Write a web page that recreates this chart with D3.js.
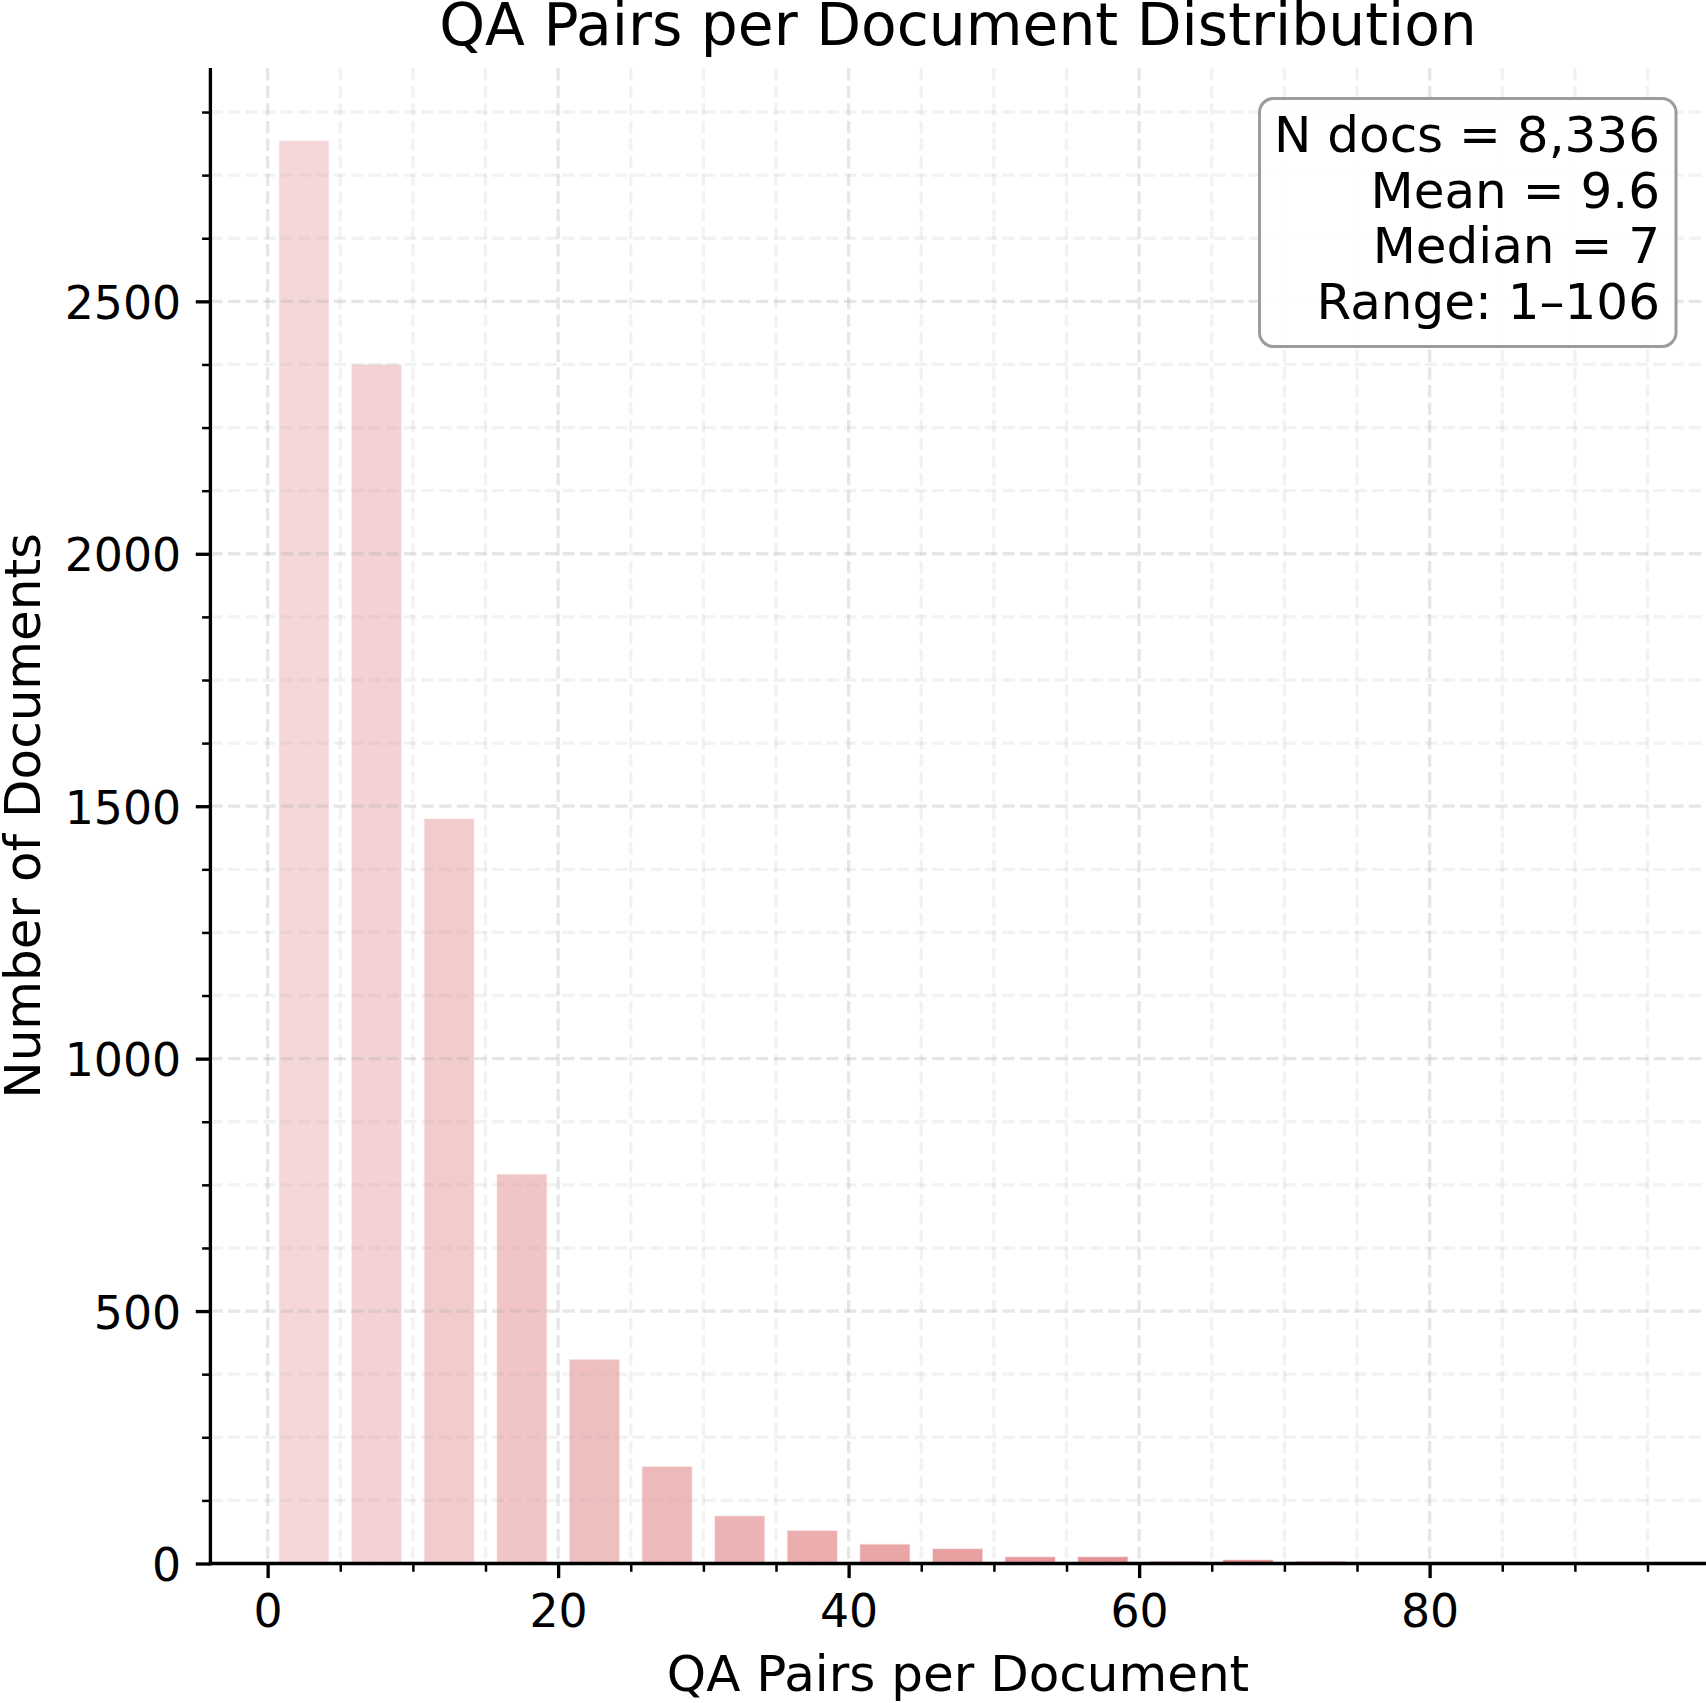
<!DOCTYPE html>
<html>
<head>
<meta charset="utf-8">
<script src="https://cdn.jsdelivr.net/npm/d3@7"></script>
<style>
  html, body { margin: 0; padding: 0; background: #ffffff; }
  svg { display: block; font-family: "DejaVu Sans", sans-serif; }
</style>
</head>
<body>
<script>
// ---- data ----
const binStarts = [0, 5, 10, 15, 20, 25, 30, 35, 40, 45, 50, 55, 60, 65, 70];
const binWidth = 5;
const counts = [2819, 2376, 1476, 772, 405, 193, 95, 66, 39, 30, 14, 14, 5, 8, 5];
const xMajorTicks = [0, 20, 40, 60, 80];
const yMajorTicks = [0, 500, 1000, 1500, 2000, 2500];
const statsLines = ["N docs = 8,336", "Mean = 9.6", "Median = 7", "Range: 1\u2013106"];
const titleText = "QA Pairs per Document Distribution";
const xLabelText = "QA Pairs per Document";
const yLabelText = "Number of Documents";

// ---- layout ----
const W = 1706, H = 1703;
const pL = 210.4, pR = 1705.6, pT = 68.1, pB = 1563.5;
const xDomain = [-3.94, 99.0];
const yDomain = [0, 2962];
const rwidth = 0.7;

const tickFont = 45.8, labelFont = 50, titleFont = 58.3, statsFont = 50;
const lw = 3.33;

const svg = d3.select("body").append("svg").attr("width", W).attr("height", H);

const x = d3.scaleLinear().domain(xDomain).range([pL, pR]);
const y = d3.scaleLinear().domain(yDomain).range([pB, pT]);

const xMinor = d3.range(5, 100, 5).filter(v => v % 20 !== 0);
const yMinor = d3.range(125, 2962, 125).filter(v => v % 500 !== 0);

const colorScale = d3.scaleLinear()
  .domain([0, binStarts.length - 1])
  .range(["rgb(245,215,217)", "rgb(224,130,130)"])
  .interpolate(d3.interpolateRgb);

// bars
svg.append("g").selectAll("rect").data(binStarts).join("rect")
  .attr("x", (d) => x(d + binWidth * (1 - rwidth) / 2))
  .attr("width", (d) => x(d + binWidth * (1 + rwidth) / 2) - x(d + binWidth * (1 - rwidth) / 2))
  .attr("y", (d, i) => y(counts[i]))
  .attr("height", (d, i) => y(0) - y(counts[i]))
  .attr("fill", (d, i) => colorScale(i))
  .attr("stroke", "#ffffff")
  .attr("stroke-opacity", 0.7)
  .attr("stroke-width", 1.5);

// grid (drawn above bars, like matplotlib default)
const grid = svg.append("g");
const dash = "12.3,5.3";
grid.selectAll(".vminor").data(xMinor).join("line")
  .attr("x1", d => x(d)).attr("x2", d => x(d))
  .attr("y1", pT).attr("y2", pB)
  .attr("stroke", "rgba(176,176,176,0.17)").attr("stroke-width", lw)
  .attr("stroke-dasharray", dash);
grid.selectAll(".hminor").data(yMinor).join("line")
  .attr("x1", pL).attr("x2", pR)
  .attr("y1", d => y(d)).attr("y2", d => y(d))
  .attr("stroke", "rgba(176,176,176,0.17)").attr("stroke-width", lw)
  .attr("stroke-dasharray", dash);
grid.selectAll(".vmajor").data(xMajorTicks).join("line")
  .attr("x1", d => x(d)).attr("x2", d => x(d))
  .attr("y1", pT).attr("y2", pB)
  .attr("stroke", "rgba(176,176,176,0.32)").attr("stroke-width", lw)
  .attr("stroke-dasharray", dash);
grid.selectAll(".hmajor").data(yMajorTicks).join("line")
  .attr("x1", pL).attr("x2", pR)
  .attr("y1", d => y(d)).attr("y2", d => y(d))
  .attr("stroke", "rgba(176,176,176,0.32)").attr("stroke-width", lw)
  .attr("stroke-dasharray", dash);

// axes
const xAxis = d3.axisBottom(x).tickValues(xMajorTicks).tickFormat(d3.format("d"))
  .tickSize(14.6).tickPadding(14.6);
const xAxisMinor = d3.axisBottom(x).tickValues(xMinor).tickFormat("").tickSize(8.3);
const yAxis = d3.axisLeft(y).tickValues(yMajorTicks).tickFormat(d3.format("d"))
  .tickSize(14.6).tickPadding(14.6);
const yAxisMinor = d3.axisLeft(y).tickValues(yMinor).tickFormat("").tickSize(8.3);

function styleAxis(g, minor) {
  g.select(".domain").remove();
  g.selectAll(".tick line").attr("stroke", "#000").attr("stroke-width", minor ? 2.5 : lw);
  g.selectAll(".tick text").attr("font-size", tickFont).attr("fill", "#000")
    .attr("font-family", "DejaVu Sans, sans-serif");
}

svg.append("g").attr("transform", `translate(0,${pB})`).call(xAxisMinor).call(g => styleAxis(g, true));
const gx = svg.append("g").attr("transform", `translate(0,${pB})`).call(xAxis).call(g => styleAxis(g, false));
gx.selectAll(".tick text").attr("dy", null).attr("y", 1627 - pB);

svg.append("g").attr("transform", `translate(${pL},0)`).call(yAxisMinor).call(g => styleAxis(g, true));
const gy = svg.append("g").attr("transform", `translate(${pL},0)`).call(yAxis).call(g => styleAxis(g, false));
gy.selectAll(".tick text").attr("dy", "0.375em");

// spines
svg.append("line").attr("x1", pL).attr("x2", pL).attr("y1", pT).attr("y2", pB + lw / 2)
  .attr("stroke", "#000").attr("stroke-width", lw);
svg.append("line").attr("x1", pL - lw / 2).attr("x2", pR + 2).attr("y1", pB).attr("y2", pB)
  .attr("stroke", "#000").attr("stroke-width", lw);

// title & labels
svg.append("text").attr("x", (pL + pR) / 2).attr("y", 44.5)
  .attr("text-anchor", "middle").attr("font-size", titleFont).attr("fill", "#000")
  .text(titleText);
svg.append("text").attr("x", (pL + pR) / 2).attr("y", 1691)
  .attr("text-anchor", "middle").attr("font-size", labelFont).attr("fill", "#000")
  .text(xLabelText);
svg.append("text")
  .attr("transform", `translate(40,${(pT + pB) / 2}) rotate(-90)`)
  .attr("text-anchor", "middle").attr("font-size", labelFont).attr("fill", "#000")
  .text(yLabelText);

// stats box
svg.append("rect").attr("x", 1259.5).attr("y", 98.5).attr("width", 416.5).attr("height", 248)
  .attr("rx", 14).attr("ry", 14)
  .attr("fill", "rgba(255,255,255,0.92)").attr("stroke", "#9c9c9c").attr("stroke-width", 3);
svg.append("g").selectAll("text").data(statsLines).join("text")
  .attr("x", 1660).attr("y", (d, i) => 152 + i * 55.7)
  .attr("text-anchor", "end").attr("font-size", statsFont).attr("fill", "#000")
  .text(d => d);
</script>
</body>
</html>
